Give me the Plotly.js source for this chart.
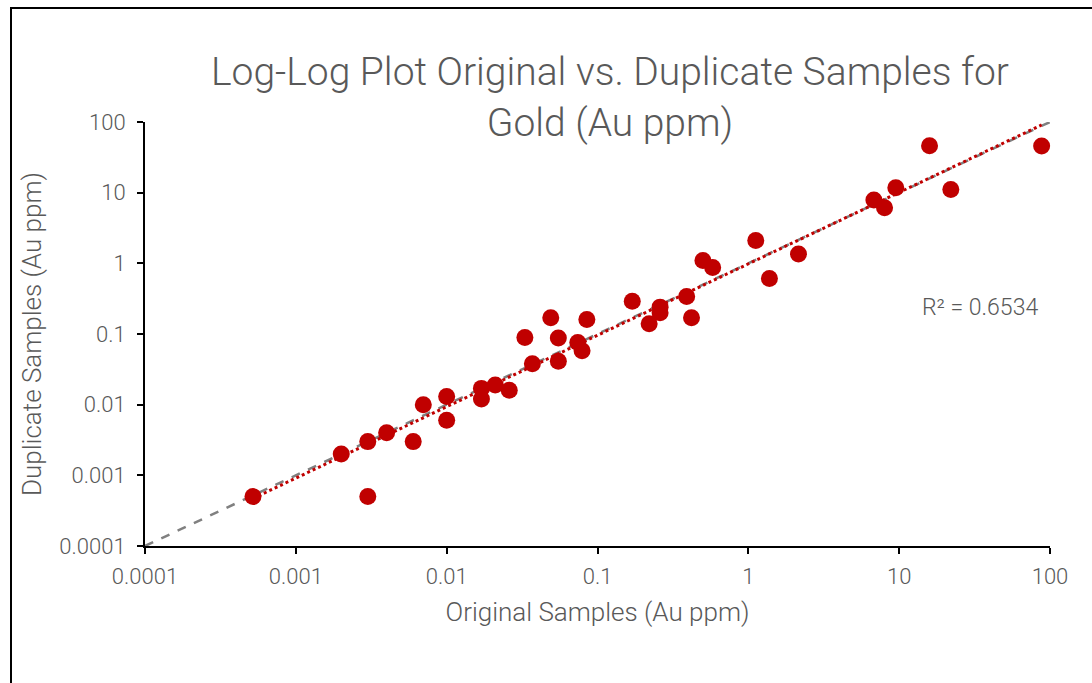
<!DOCTYPE html>
<html>
<head>
<meta charset="utf-8">
<script src="https://cdn.plot.ly/plotly-3.0.1.min.js"></script>
<style>
html, body { margin: 0; padding: 0; background: #fff; }
#wrap { position: relative; width: 1092px; height: 683px; overflow: hidden; }
#chart { position: absolute; left: 0; top: 0; width: 1092px; height: 683px; }
#frame { position: absolute; left: 10px; top: 7px; width: 1100px; height: 700px; border-left: 2px solid #000; border-top: 2px solid #000; pointer-events: none; }
</style>
</head>
<body>
<div id="wrap">
  <div id="chart"></div>
  <div id="frame"></div>
</div>
<script>
// Original vs duplicate gold assays (Au ppm)
const originalAu = [0.00052, 0.002, 0.003, 0.003, 0.004, 0.006, 0.007, 0.01, 0.01, 0.017, 0.017, 0.021, 0.026,
  0.033, 0.037, 0.049, 0.055, 0.055, 0.074, 0.079, 0.085, 0.17, 0.22, 0.26, 0.26, 0.39, 0.42, 0.5, 0.58,
  1.12, 1.38, 2.15, 6.8, 8.0, 9.5, 15.9, 22, 88];
const duplicateAu = [0.0005, 0.002, 0.003, 0.0005, 0.004, 0.003, 0.01, 0.013, 0.006, 0.017, 0.012, 0.019, 0.016,
  0.089, 0.038, 0.17, 0.088, 0.041, 0.076, 0.058, 0.16, 0.29, 0.14, 0.24, 0.20, 0.34, 0.17, 1.1, 0.87,
  2.1, 0.61, 1.36, 7.9, 6.1, 11.7, 46, 11.1, 45.7];
const tickValues = [0.0001, 0.001, 0.01, 0.1, 1, 10, 100];
const tickLabels = ["0.0001", "0.001", "0.01", "0.1", "1", "10", "100"];
const oneToOne = [0.0001, 100];
const rSquaredText = "R² = 0.6534";

// Power trendline (least squares in log space), drawn over the data's x range
const lx = originalAu.map(Math.log10), ly = duplicateAu.map(Math.log10);
const n = lx.length;
const mx = lx.reduce((a, b) => a + b, 0) / n, my = ly.reduce((a, b) => a + b, 0) / n;
let sxy = 0, sxx = 0;
for (let i = 0; i < n; i++) { sxy += (lx[i] - mx) * (ly[i] - my); sxx += (lx[i] - mx) ** 2; }
const slope = sxy / sxx, intercept = my - slope * mx;
const xMin = Math.min(...originalAu), xMax = Math.max(...originalAu);
const trendX = [], trendY = [];
for (let i = 0; i <= 60; i++) {
  const lv = Math.log10(xMin) + (Math.log10(xMax) - Math.log10(xMin)) * i / 60;
  trendX.push(Math.pow(10, lv));
  trendY.push(Math.pow(10, intercept + slope * lv));
}

const FONT = "Roboto, 'Open Sans', sans-serif";
const GREY = "#595959";

const traces = [
  {
    x: oneToOne, y: oneToOne, type: "scatter", mode: "lines",
    line: { color: "#808080", width: 2.5, dash: "dash" }, hoverinfo: "skip", showlegend: false
  },
  {
    x: originalAu, y: duplicateAu, type: "scatter", mode: "markers",
    marker: { color: "#C00000", size: 17 }, showlegend: false, cliponaxis: false
  },
  {
    x: trendX, y: trendY, type: "scatter", mode: "lines",
    line: { color: "#C00000", width: 3, dash: "dot" }, hoverinfo: "skip", showlegend: false
  }
];

const axisCommon = {
  type: "log", range: [-4, 2], tickmode: "array", tickvals: tickValues, ticktext: tickLabels,
  showgrid: false, zeroline: false, showline: true, linecolor: "#000", linewidth: 2,
  ticks: "outside", ticklen: 6, tickwidth: 2, tickcolor: "#000",
  tickfont: { family: FONT, size: 22, color: GREY, weight: 300 }
};

const layout = {
  width: 1092, height: 683,
  margin: { l: 145, r: 42, t: 122, b: 137 },
  paper_bgcolor: "rgba(0,0,0,0)", plot_bgcolor: "rgba(0,0,0,0)",
  font: { family: FONT, color: GREY },
  title: {
    text: "Log-Log Plot Original vs. Duplicate Samples for<br>Gold (Au ppm)",
    font: { family: FONT, size: 39, color: GREY, weight: 300 },
    x: 610 / 1092, xanchor: "center", xref: "container",
    y: 1 - 85 / 683, yanchor: "top", yref: "container"
  },
  xaxis: Object.assign({}, axisCommon, {
    ticklabelstandoff: 4,
    title: { text: "Original Samples (Au ppm)", font: { family: FONT, size: 26, color: GREY, weight: 300 }, standoff: 14 }
  }),
  yaxis: Object.assign({}, axisCommon, {
    ticklabelstandoff: 7,
    title: { text: "Duplicate Samples (Au ppm)", font: { family: FONT, size: 26, color: GREY, weight: 300 }, standoff: 10 }
  }),
  annotations: [{
    text: rSquaredText, xref: "paper", yref: "paper",
    x: (980 - 145) / 905, y: (546 - 307) / 424, xanchor: "center", yanchor: "middle",
    showarrow: false, font: { family: FONT, size: 23, color: GREY, weight: 300 }
  }]
};

Plotly.newPlot("chart", traces, layout, { displayModeBar: false, staticPlot: true });
</script>
</body>
</html>
